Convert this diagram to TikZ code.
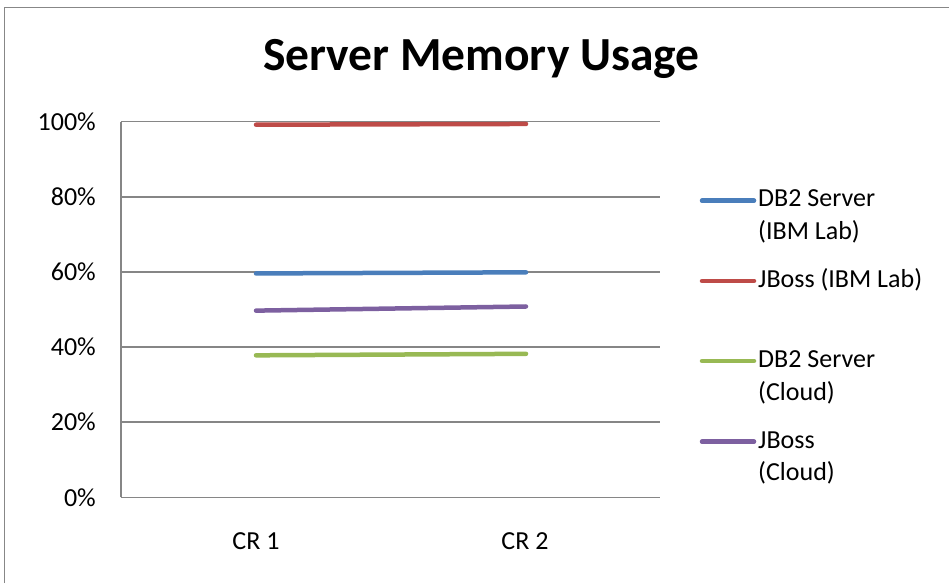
\documentclass[tikz,border=0pt]{standalone}
\usepackage{fontspec}
\setmainfont{Carlito}
\definecolor{framegray}{HTML}{878787}
\definecolor{axisgray}{HTML}{868686}
\definecolor{sblue}{HTML}{4A7EBB}
\definecolor{sred}{HTML}{BE4B48}
\definecolor{sgreen}{HTML}{98B954}
\definecolor{spurple}{HTML}{7D60A0}
\begin{document}
\begin{tikzpicture}[x=1pt,y=-1pt,
  lbl/.style={font=\fontsize{26}{31}\selectfont, inner sep=0pt},
  ylbl/.style={lbl, anchor=east},
  leglbl/.style={lbl, anchor=west, align=left, text height=17pt, text depth=5pt},
  grid line/.style={draw=axisgray, line width=1.5pt},
  series/.style={line width=4.5pt, line cap=round},
]
\useasboundingbox (0,0) rectangle (949,583);
\fill[white] (0,0) rectangle (949,583);
% outer chart frame (cropped)
\draw[framegray, line width=1.5pt] (4.5,583) -- (4.5,7.5) -- (949,7.5);
% title
\node[font=\fontsize{47.5}{52}\selectfont\bfseries, inner sep=0pt] (title) at (481.5,59) {Server Memory Usage};
% grid and axes
\foreach \v/\n in {0/0,20/1,40/2,60/3,80/4,100/5}{
  \coordinate (gl\n) at (121,{497.3-3.756*\v});
  \coordinate (gr\n) at (660,{497.3-3.756*\v});
  \draw[grid line] (gl\n) -- (gr\n);
  \node[ylbl] (yl\n) at (96,{497.3-3.756*\v}) {\v\%};
}
\draw[grid line] (gl0) -- (gl5);
% category labels
\node[lbl] (cr1) at (256,541) {CR 1};
\node[lbl] (cr2) at (525,541) {CR 2};
% data points
\coordinate (r1) at (256,{497.3-3.756*99.2});
\coordinate (r2) at (526,{497.3-3.756*99.4});
\coordinate (b1) at (256,{497.3-3.756*59.6});
\coordinate (b2) at (526,{497.3-3.756*59.9});
\coordinate (p1) at (256,{497.3-3.756*49.7});
\coordinate (p2) at (526,{497.3-3.756*50.8});
\coordinate (g1) at (256,{497.3-3.756*37.8});
\coordinate (g2) at (526,{497.3-3.756*38.2});
\draw[series, sred] (r1) -- (r2);
\draw[series, sblue] (b1) -- (b2);
\draw[series, spurple] (p1) -- (p2);
\draw[series, sgreen] (g1) -- (g2);
% legend
\coordinate (lb1) at (702,200.7); \coordinate (lb2) at (754,200.7);
\coordinate (lr1) at (702,281); \coordinate (lr2) at (754,281);
\coordinate (lg1) at (702,361); \coordinate (lg2) at (754,361);
\coordinate (lp1) at (702,441.7); \coordinate (lp2) at (754,441.7);
\draw[series, sblue] (lb1) -- (lb2);
\draw[series, sred] (lr1) -- (lr2);
\draw[series, sgreen] (lg1) -- (lg2);
\draw[series, spurple] (lp1) -- (lp2);
\node[leglbl] (tb1) at (758,200) {DB2 Server};
\node[leglbl] (tb2) at (758,233) {(IBM Lab)};
\node[leglbl] (tr) at (758,281) {JBoss (IBM Lab)};
\node[leglbl] (tg1) at (758,361) {DB2 Server};
\node[leglbl] (tg2) at (758,394) {(Cloud)};
\node[leglbl] (tp1) at (758,442) {JBoss};
\node[leglbl] (tp2) at (758,474) {(Cloud)};
\end{tikzpicture}
\end{document}
